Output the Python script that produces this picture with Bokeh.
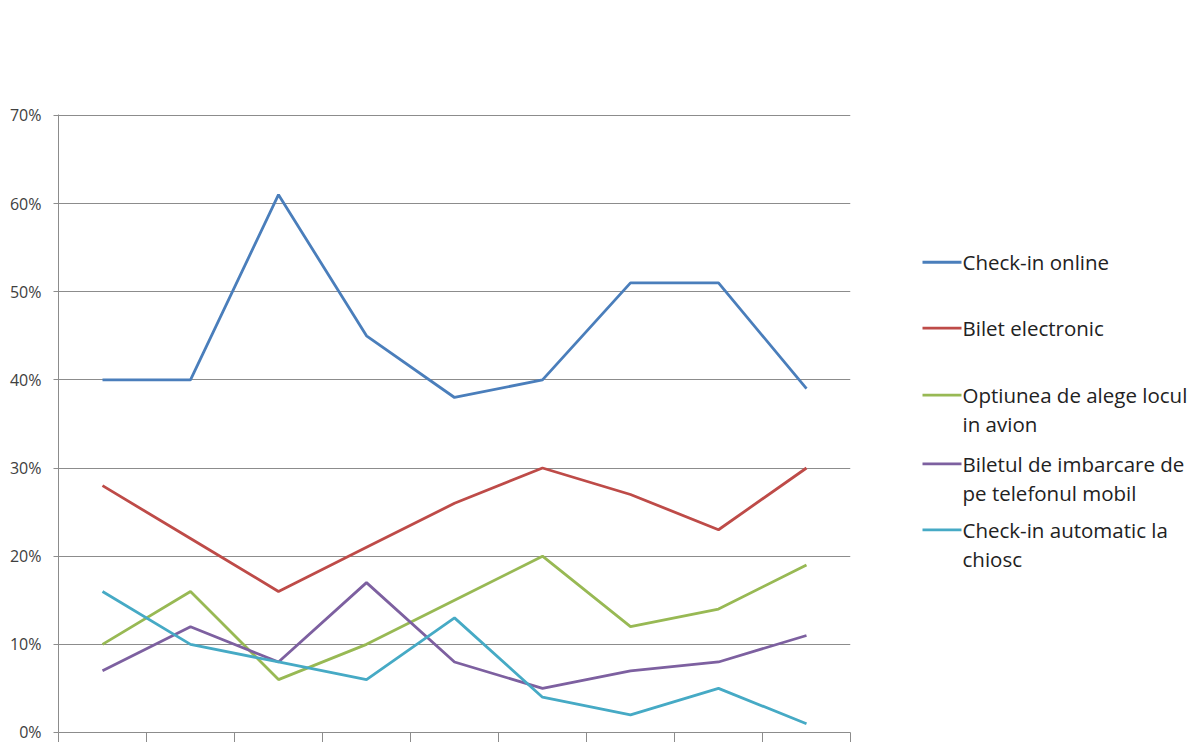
from bokeh.plotting import figure
from bokeh.layouts import row
from bokeh.models import Range1d, FixedTicker, PrintfTickFormatter
from bokeh.core.properties import value
from bokeh.embed import file_html
from bokeh.resources import INLINE

# ---- data ----
categories = [1, 2, 3, 4, 5, 6, 7, 8, 9]
checkin_online = [40, 40, 61, 45, 38, 40, 51, 51, 39]
bilet_electronic = [28, 22, 16, 21, 26, 30, 27, 23, 30]
optiunea_loc = [10, 16, 6, 10, 15, 20, 12, 14, 19]
bilet_mobil = [7, 12, 8, 17, 8, 5, 7, 8, 11]
checkin_chiosc = [16, 10, 8, 6, 13, 4, 2, 5, 1]
y_ticks = [0, 10, 20, 30, 40, 50, 60, 70]
x_boundaries = [0.5, 1.5, 2.5, 3.5, 4.5, 5.5, 6.5, 7.5, 8.5, 9.5]

series_labels = [
    ["Check-in online"],
    ["Bilet electronic"],
    ["Optiunea de alege locul", "in avion"],
    ["Biletul de imbarcare de", "pe telefonul mobil"],
    ["Check-in automatic la", "chiosc"],
]
series_values = [checkin_online, bilet_electronic, optiunea_loc, bilet_mobil, checkin_chiosc]
series_colors = ["#4A7EBB", "#BE4B48", "#98B954", "#7D60A0", "#46AAC5"]

FONT = "Open Sans"
H = 742
TOP, BOTTOM = 114, 9
MW = 870

p = figure(width=MW, height=H, output_backend="svg", toolbar_location=None,
           x_range=Range1d(0.5, 9.5), y_range=Range1d(0, 70.1),
           min_border_left=58, min_border_right=20, min_border_top=TOP,
           min_border_bottom=BOTTOM)
p.outline_line_color = None
p.background_fill_color = "white"
p.border_fill_color = "white"

for vals, col in zip(series_values, series_colors):
    p.line(categories, vals, line_color=col, line_width=2.8)

# y axis
p.yaxis.ticker = FixedTicker(ticks=y_ticks)
p.yaxis.formatter = PrintfTickFormatter(format="%d%%")
p.yaxis.axis_line_color = "#8C8C8C"
p.yaxis.major_tick_line_color = "#8C8C8C"
p.yaxis.major_tick_out = 5
p.yaxis.major_tick_in = 0
p.yaxis.minor_tick_line_color = None
p.yaxis.major_label_text_font = FONT
p.yaxis.major_label_text_font_size = "16px"
p.yaxis.major_label_text_color = "#404040"
p.yaxis.major_label_standoff = 12

# x axis
p.xaxis.ticker = FixedTicker(ticks=x_boundaries)
p.xaxis.major_label_text_font_size = "0px"
p.xaxis.axis_line_color = "#8C8C8C"
p.xaxis.major_tick_line_color = "#8C8C8C"
p.xaxis.major_tick_out = 10
p.xaxis.major_tick_in = 0
p.xaxis.minor_tick_line_color = None

p.xgrid.grid_line_color = None
p.ygrid.ticker = FixedTicker(ticks=y_ticks)
p.ygrid.grid_line_color = "#8C8C8C"
p.ygrid.grid_line_width = 1

# ---- legend panel (coordinates in page pixels) ----
LW = 1191 - MW
lg = figure(width=LW, height=H, output_backend="svg", toolbar_location=None,
            x_range=Range1d(MW, MW + LW), y_range=Range1d(H - BOTTOM, TOP),
            min_border_left=0, min_border_right=0,
            min_border_top=TOP, min_border_bottom=BOTTOM)
lg.axis.visible = False
lg.grid.visible = False
lg.outline_line_color = None

entry_y = [262, 328, 395, 464, 530]
line_gap = 29
seg_x0, seg_x1, txt_x = 922, 961, 962
tx, ty, tt = [], [], []
for lines, y0 in zip(series_labels, entry_y):
    for k, t in enumerate(lines):
        tx.append(txt_x)
        ty.append(y0 + k * line_gap)
        tt.append(t)
lg.segment(x0=[seg_x0] * 5, x1=[seg_x1] * 5, y0=entry_y, y1=entry_y,
           line_color=series_colors, line_width=2.8)
lg.text(x=tx, y=ty, text=tt, text_font=value(FONT), text_font_size="20.5px",
        text_color="#222222", text_baseline="middle", text_align="left")

layout = row(p, lg)
open("out.html", "w").write(file_html(layout, INLINE))
